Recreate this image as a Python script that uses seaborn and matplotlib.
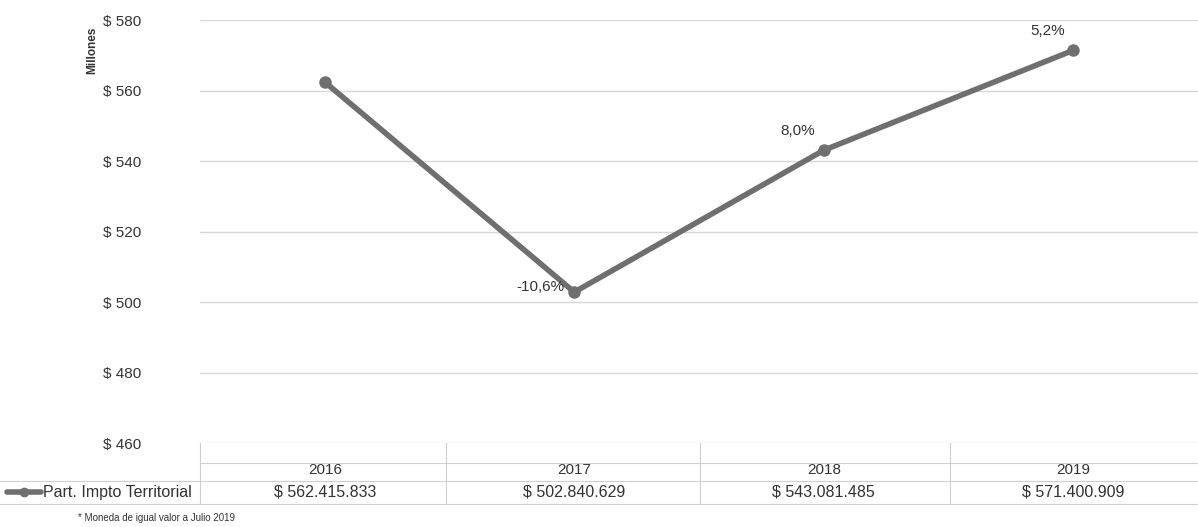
import matplotlib.pyplot as plt
import seaborn as sns
import pandas as pd
from matplotlib.lines import Line2D
from matplotlib.transforms import blended_transform_factory

# =========================
# DATA
# =========================

years = ["2016", "2017", "2018", "2019"]
values = [562415833, 502840629, 543081485, 571400909]
y_ticks = [460, 480, 500, 520, 540, 560, 580]
series_name = "Part. Impto Territorial"
footnote = "* Moneda de igual valor a Julio 2019"

df = pd.DataFrame({"year": years, "millones": [v / 1e6 for v in values]})


def fmt_money(v):
    return "$ " + f"{v:,}".replace(",", ".")


def fmt_pct(p):
    return f"{p:.1f}%".replace(".", ",")


# =========================
# PLOT
# =========================

sns.set_style("white")
plt.rcParams["font.family"] = ["Liberation Sans", "DejaVu Sans"]

fig = plt.figure(figsize=(11.98, 5.27), dpi=100)
ax = fig.add_axes([0.167, 0.159, 0.833, 0.803])

line_color = "#6f6f6f"
sns.lineplot(data=df, x="year", y="millones", ax=ax, color=line_color,
             linewidth=4, marker="o", markersize=9, markeredgewidth=0)

ax.set_xlim(-0.5, 3.5)
ax.set_ylim(460, 580)
ax.set_yticks(y_ticks)
ax.set_yticklabels([f"$ {t}" for t in y_ticks], fontsize=11, color="#333333")
ax.tick_params(axis="y", length=0, pad=70)
for lbl in ax.get_yticklabels():
    lbl.set_horizontalalignment("left")
ax.set_xticks([])
ax.set_xlabel("")
ax.set_ylabel("")
ax.grid(axis="y", color="#d8d8d8", linewidth=1)
for s in ax.spines.values():
    s.set_visible(False)

fig.text(0.077, 0.905, "Millones", rotation=90, fontsize=8.5,
         fontweight="bold", ha="center", va="center", color="#333333")

# percent change labels
offsets = {1: (-7, 4, "right"), 2: (-6, 14, "right"), 3: (-6, 14, "right")}
for i in range(1, len(values)):
    pct = (values[i] / values[i - 1] - 1) * 100
    dx, dy, ha = offsets[i]
    ax.annotate(fmt_pct(pct), (i, values[i] / 1e6), textcoords="offset points",
                xytext=(dx, dy), ha=ha, va="center", fontsize=11, color="#333333")

# =========================
# DATA TABLE
# =========================

trans = blended_transform_factory(ax.transData, fig.transFigure)
for i, (yr, v) in enumerate(zip(years, values)):
    ax.text(i, 0.108, yr, transform=trans, ha="center", va="center",
            fontsize=11, color="#333333")
    ax.text(i, 0.066, fmt_money(v), transform=trans, ha="center", va="center",
            fontsize=11.5, color="#333333")

tbl_color = "#cfcfcf"
for yy in [0.122, 0.088, 0.044]:
    fig.add_artist(Line2D([0.167, 0.999], [yy, yy], color=tbl_color, lw=0.8))
for xx in [0.167, 0.372, 0.584, 0.793]:
    fig.add_artist(Line2D([xx, xx], [0.044, 0.159], color=tbl_color, lw=0.8))
fig.add_artist(Line2D([0.0, 0.167], [0.088, 0.088], color=tbl_color, lw=0.8))
fig.add_artist(Line2D([0.0, 0.167], [0.044, 0.044], color=tbl_color, lw=0.8))

# legend key + series name
fig.add_artist(Line2D([0.006, 0.034], [0.066, 0.066], color=line_color, lw=4))
fig.add_artist(Line2D([0.020], [0.066], color=line_color, marker="o",
                      markersize=7, markeredgewidth=0))
fig.text(0.036, 0.066, series_name, fontsize=11.5, ha="left", va="center",
         color="#333333")

fig.text(0.065, 0.018, footnote, fontsize=7, ha="left", va="center",
         color="#333333")

plt.savefig("out.png", dpi=100)
